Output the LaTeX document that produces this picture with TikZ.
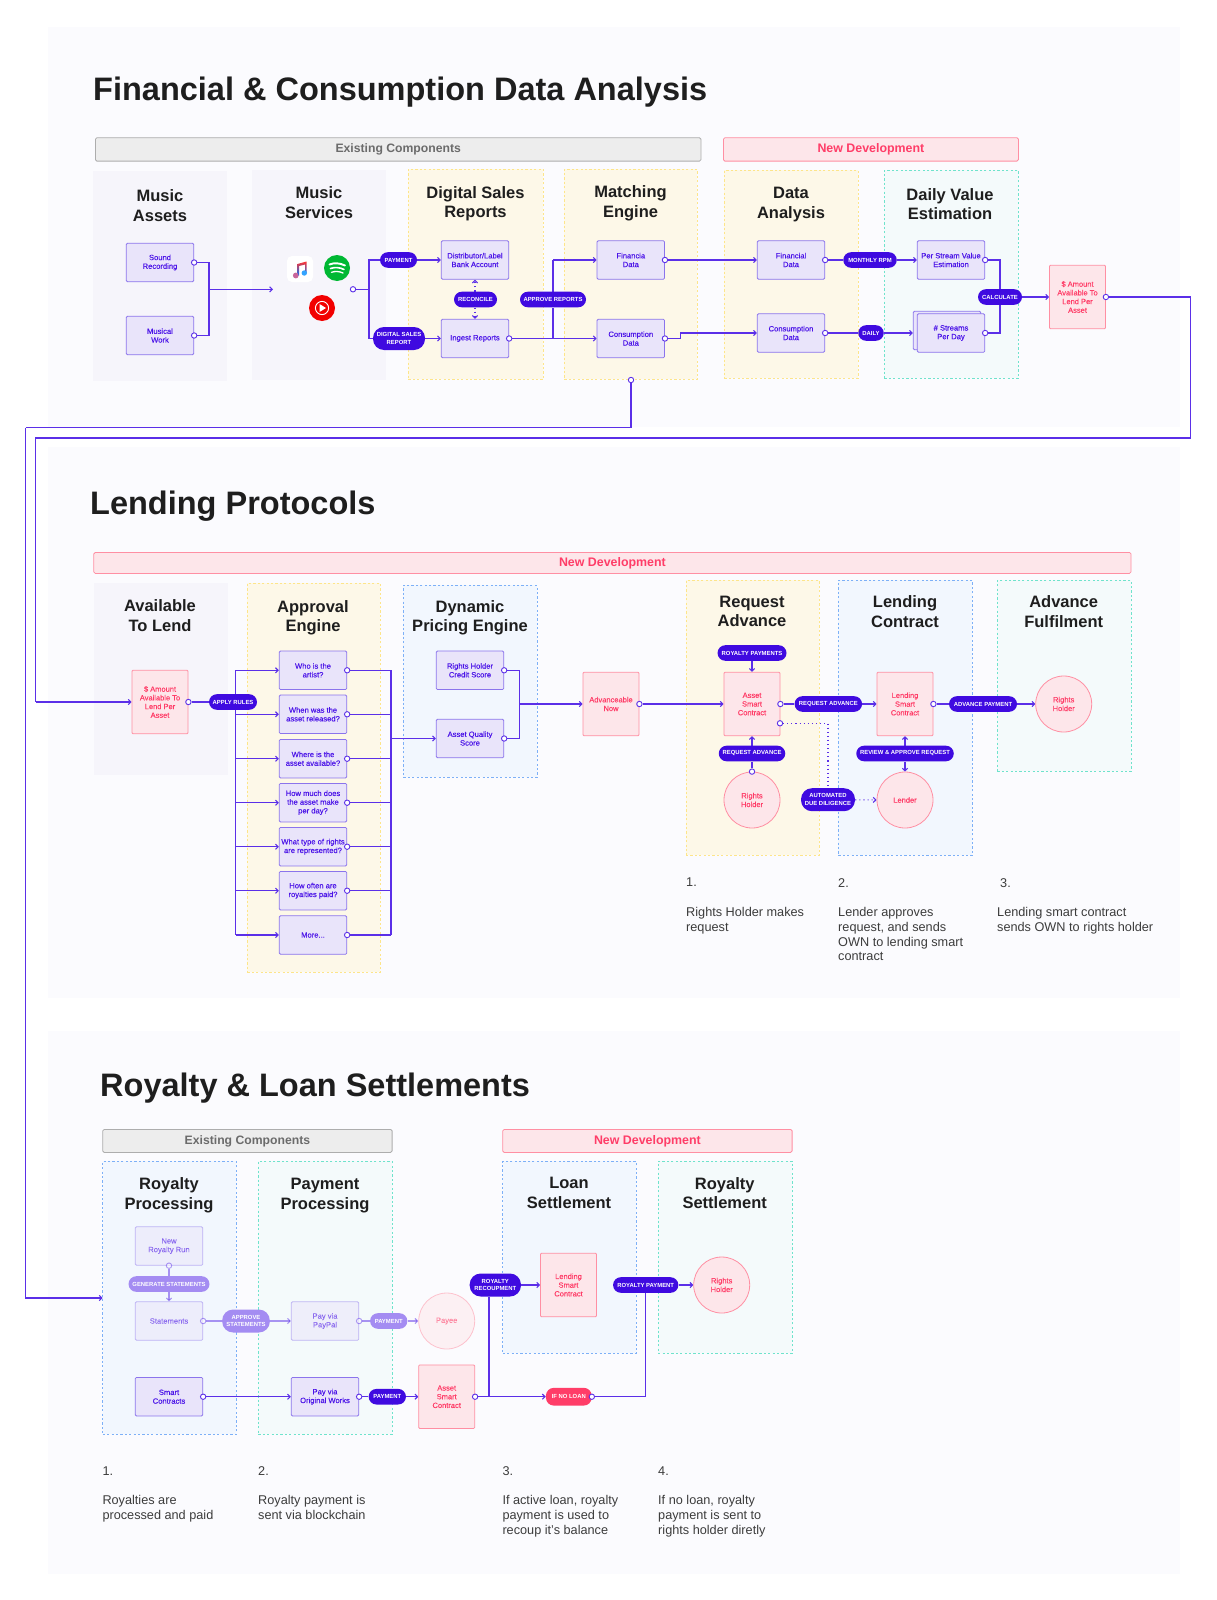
\documentclass[tikz,border=0pt]{standalone}
\usepackage{fontspec}
\setmainfont{Liberation Sans}
\newfontfamily\boxfont[FakeBold=0.25]{Liberation Sans}
\usetikzlibrary{arrows.meta}
\definecolor{sheet}{HTML}{FBFBFE}
\definecolor{linec}{HTML}{5B2FE8}
\definecolor{pillc}{HTML}{3F0AE0}
\definecolor{pilllight}{HTML}{A48CF2}
\definecolor{boxfill}{HTML}{E9E4FA}
\definecolor{boxedge}{HTML}{8B74EC}
\definecolor{boxtext}{HTML}{4B14E8}
\definecolor{pinkfill}{HTML}{FDE6EA}
\definecolor{pinkedge}{HTML}{FF8FA3}
\definecolor{pinktext}{HTML}{FF3D68}
\definecolor{inktext}{HTML}{1E1E1E}
\definecolor{bodytext}{HTML}{3C3C3C}
\definecolor{greyfill}{HTML}{F6F5FB}
\definecolor{yellowfill}{HTML}{FDF8E8}
\definecolor{yellowedge}{HTML}{FDE58A}
\definecolor{bluefill}{HTML}{F2F7FE}
\definecolor{blueedge}{HTML}{7DB0F7}
\definecolor{tealfill}{HTML}{F4FAFB}
\definecolor{tealedge}{HTML}{6FE3CC}
\pgfdeclarelayer{panels}
\pgfdeclarelayer{lines}
\pgfsetlayers{panels,lines,main}
\tikzset{
    wh/.style 2 args={minimum width=#1,minimum height=#2},
    sheetbox/.style={fill=sheet,anchor=north west,inner sep=0},
    panelbase/.style={anchor=north west,inner sep=0},
    greypanel/.style={panelbase,fill=greyfill},
    yellowpanel/.style={panelbase,fill=yellowfill,draw=yellowedge,dash pattern=on 2.2 off 2.2,line width=.9},
    bluepanel/.style={panelbase,fill=bluefill,draw=blueedge,dash pattern=on 2.2 off 2.2,line width=.9},
    tealpanel/.style={panelbase,fill=tealfill,draw=tealedge,dash pattern=on 2.2 off 2.2,line width=.9},
    greybar/.style={panelbase,fill=black!7,draw=black!32,rounded corners=1.5,line width=.8,text=black!58,font=\fontsize{12.2}{13}\selectfont\bfseries},
    pinkbar/.style={panelbase,fill=pinkfill,draw=pinkedge,rounded corners=1.5,line width=.8,text=pinktext,font=\fontsize{12.4}{13}\selectfont\bfseries},
    head/.style={align=center,inner sep=0,text=inktext,font=\fontsize{16.5}{19.5}\selectfont\bfseries},
    bigtitle/.style={anchor=west,inner sep=0,text=inktext,font=\fontsize{32.5}{36}\selectfont\bfseries},
    box/.style={wh={67.5}{38.5},rectangle,rounded corners=1.2,fill=boxfill,draw=boxedge,line width=.8,align=center,inner sep=0,text=boxtext,font=\boxfont\fontsize{7.6}{8.7}\selectfont},
    pinkbox/.style={wh={56}{63.5},rectangle,rounded corners=1,fill=pinkfill,draw=pinkedge,line width=.8,align=center,inner sep=0,text=pinktext,font=\boxfont\fontsize{7.5}{8.7}\selectfont},
    pinkdot/.style={circle,minimum size=56,fill=pinkfill,draw=pinkedge,line width=.8,align=center,inner sep=0,text=pinktext,font=\boxfont\fontsize{7.5}{8.7}\selectfont},
    pill/.style={rectangle,rounded corners=7.8,fill=pillc,text=white,minimum height=15.6,align=center,inner sep=0,font=\fontsize{5.9}{7.5}\selectfont\bfseries},
    pilltwo/.style={pill,minimum height=23,rounded corners=11},
    lightpill/.style={fill=pilllight},
    port/.style={circle,draw=linec,fill=white,line width=.9,minimum size=5.4,inner sep=0},
    link/.style={draw=linec,line width=1.1},
    arrow/.style={link,-{Straight Barb[length=2.6,width=5.2]}},
    dotlink/.style={link,dash pattern=on 1.1 off 3},
    dotarrow/.style={dotlink,-{Straight Barb[length=2.6,width=5.2]}},
    faded/.style={opacity=.5},
    steptext/.style={anchor=north west,align=left,inner sep=0,text=bodytext,font=\fontsize{12.7}{14.8}\selectfont},
}
\begin{document}
\begin{tikzpicture}[x=1pt,y=-1pt]
    \useasboundingbox (0,0) rectangle (1216,1600);
    \begin{pgfonlayer}{panels}
        \node[sheetbox,wh={1132}{400}] (sheetone) at (48,26.5) {};
        \node[sheetbox,wh={1132}{551}] (sheettwo) at (48,447) {};
        \node[sheetbox,wh={1132}{543}] (sheetthree) at (48,1031) {};
        \node[greypanel,wh={134}{210}] (assets) at (93,171) {};
        \node[greypanel,wh={134}{210}] (services) at (252,170) {};
        \node[yellowpanel,wh={135}{210}] (salespanel) at (408,169) {};
        \node[yellowpanel,wh={133}{210}] (matchpanel) at (564,169) {};
        \node[yellowpanel,wh={133.5}{208}] (analysispanel) at (724,170) {};
        \node[tealpanel,wh={134}{208}] (dailypanel) at (884,170) {};
        \node[greypanel,wh={134}{192}] (availpanel) at (93.4,583) {};
        \node[yellowpanel,wh={133}{389}] (approvalpanel) at (247,583) {};
        \node[bluepanel,wh={133.5}{192}] (pricingpanel) at (403,585) {};
        \node[yellowpanel,wh={133}{275}] (requestpanel) at (685.6,580) {};
        \node[bluepanel,wh={134}{275}] (lendingpanel) at (838,580) {};
        \node[tealpanel,wh={133.6}{191}] (fulfilpanel) at (997,580) {};
        \node[bluepanel,wh={133.4}{273}] (royaltypanel) at (102.3,1161) {};
        \node[tealpanel,wh={133.7}{273}] (paymentpanel) at (258,1161) {};
        \node[bluepanel,wh={133.4}{191.7}] (loanpanel) at (502.3,1161) {};
        \node[tealpanel,wh={134}{191.7}] (settlepanel) at (657.7,1161) {};
    \end{pgfonlayer}

    \node[bigtitle] (titleone) at (93,92.5) {Financial \& Consumption Data Analysis};
    \node[bigtitle] (titletwo) at (90,506) {Lending Protocols};
    \node[bigtitle] (titlethree) at (100,1088) {Royalty \& Loan Settlements};

    \node[greybar,wh={605.6}{23.4}] (existone) at (95,137.3) {Existing Components};
    \node[pinkbar,wh={295}{23.4}] (newone) at (723,137.3) {New Development};
    \node[pinkbar,wh={1037.2}{21}] (newtwo) at (93.4,552) {New Development};
    \node[greybar,wh={289.4}{23}] (existthree) at (102.3,1129) {Existing Components};
    \node[pinkbar,wh={289.4}{23}] (newthree) at (502.3,1129) {New Development};

    \node[head] (hassets) at (160,205.5) {Music\\Assets};
    \node[head] (hservices) at (319,202.5) {Music\\Services};
    \node[head] (hsales) at (475.5,203.5) {Digital Sales\\Reports};
    \node[head] (hmatch) at (630.5,203.5) {Matching\\Engine};
    \node[head] (hanalysis) at (791,204.5) {Data\\Analysis};
    \node[head] (hdaily) at (950,204) {Daily Value\\Estimation};
    \node[head] (havail) at (160,615.5) {Available\\To Lend};
    \node[head] (happroval) at (313,618) {Approval\\Engine};
    \node[head] (hpricing) at (470,618) {Dynamic\\Pricing Engine};
    \node[head] (hrequest) at (752,611.5) {Request\\Advance};
    \node[head] (hlending) at (905,611.5) {Lending\\Contract};
    \node[head] (hfulfil) at (1063.7,611.5) {Advance\\Fulfilment};
    \node[head] (hroyalty) at (169,1195.5) {Royalty\\Processing};
    \node[head] (hpayment) at (325,1195.5) {Payment\\Processing};
    \node[head] (hloan) at (569,1193) {Loan\\Settlement};
    \node[head] (hsettle) at (724.7,1193) {Royalty\\Settlement};

    \node[box] (sound) at (160,262.5) {Sound\\Recording};
    \node[box] (musical) at (160,335.5) {Musical\\Work};
    \node[box] (distributor) at (475,260) {Distributor/Label\\Bank Account};
    \node[box] (ingest) at (475,338.5) {Ingest Reports};
    \node[box] (financia) at (630.8,260) {Financia\\Data};
    \node[box] (consumption) at (630.8,338.5) {Consumption\\Data};
    \node[box] (financial) at (791,260) {Financial\\Data};
    \node[box] (consumed) at (791,333) {Consumption\\Data};
    \node[box] (perstream) at (951,260) {Per Stream Value\\Estimation};
    \node[box] (backstreams) at (947,330.5) {};
    \node[box] (streams) at (951,333) {\# Streams\\Per Day};
    \node[pinkbox] (amount) at (1077.5,297) {\$ Amount\\Available To\\Lend Per\\Asset};

    \node[pill,minimum width=37] (payment) at (398.5,260) {PAYMENT};
    \node[pilltwo,minimum width=52] (salesreport) at (399,338.5) {DIGITAL SALES\\REPORT};
    \node[pill,minimum width=43] (reconcile) at (475.5,299.5) {RECONCILE};
    \node[pill,minimum width=66] (approve) at (553,299.5) {APPROVE REPORTS};
    \node[pill,minimum width=53.5] (monthly) at (870,260) {MONTHLY RPM};
    \node[pill,minimum width=25.5] (daily) at (871,333) {DAILY};
    \node[pill,minimum width=44] (calculate) at (1000,297) {CALCULATE};

    \node[port] (soundp) at (sound.east) {};
    \node[port] (musicalp) at (musical.east) {};
    \node[port] (servicesp) at (353,289.3) {};
    \node[port] (ingestp) at (ingest.east) {};
    \node[port] (financiap) at (financia.east) {};
    \node[port] (consumptionp) at (consumption.east) {};
    \node[port] (financialp) at (financial.east) {};
    \node[port] (consumedp) at (consumed.east) {};
    \node[port] (perstreamp) at (perstream.east) {};
    \node[port] (streamsp) at (streams.east) {};
    \node[port] (amountp) at (amount.east) {};
    \node[port] (matchp) at (631,380) {};

    \fill[white,rounded corners=5] (287,256) rectangle (313,282);
    \shade[top color=red!80!white,bottom color=blue!55!cyan] (297.5,264) -- (306.5,261.5) -- (306.5,273) -- (305,273) -- (305,264.5) -- (299,266) -- (299,275.5) -- (297.5,275.5) -- cycle;
    \fill[red!65!blue!60!white] (295.8,275.5) circle (2.9);
    \fill[blue!45!cyan!80!white] (304.3,273) circle (2.7);
    \fill[green!65!black!80!cyan] (337,268) circle (13);
    \draw[white,line width=1.9,line cap=round] (329.5,264.5) .. controls (334,262.5) and (340,263) .. (345,265.5);
    \draw[white,line width=1.6,line cap=round] (330.5,268.5) .. controls (334.5,267) and (340,267.3) .. (344,269.5);
    \draw[white,line width=1.3,line cap=round] (331.5,272.3) .. controls (335,271) and (339.5,271.3) .. (343,273);
    \fill[red!95!black] (322,308) circle (13);
    \draw[white,line width=.9] (322,308) circle (6.6);
    \fill[white] (319.5,304) -- (326,308) -- (319.5,312) -- cycle;

    \coordinate (assetsjoin) at (209,289.3);
    \coordinate (servicesin) at (273,289.3);
    \coordinate (servicesjoin) at (369,289.3);
    \coordinate (approvejoin) at (553,338.5);
    \coordinate (dailyjoin) at (1000,297);

    \begin{pgfonlayer}{lines}
        \draw[link] (soundp) -| (assetsjoin);
        \draw[link] (musicalp) -| (assetsjoin);
        \draw[arrow] (assetsjoin) -- (servicesin);
        \draw[link] (servicesp) -- (servicesjoin);
        \draw[link] (servicesjoin) |- (payment);
        \draw[link] (servicesjoin) |- (salesreport);
        \draw[arrow] (payment) -- (distributor);
        \draw[arrow] (salesreport) -- (ingest);
        \draw[dotarrow] (reconcile.north -| distributor) -- (distributor);
        \draw[dotarrow] (reconcile.south -| ingest) -- (ingest);
        \draw[link] (ingestp) -- (approvejoin);
        \draw[link] (approvejoin) -- (approve);
        \draw[arrow] (approvejoin) -- (consumption);
        \draw[arrow] (approvejoin |- financia) -- (financia);
        \draw[link] (approve) -- (approvejoin |- financia);
        \draw[arrow] (financiap) -- (financial);
        \draw[arrow] (consumptionp) -- ++(15.5,0) |- (consumed);
        \draw[link] (financialp) -- (monthly);
        \draw[arrow] (monthly) -- (perstream);
        \draw[link] (consumedp) -- (daily);
        \draw[arrow] (daily) -- (backstreams.west |- streams);
        \draw[link] (perstreamp) -| (dailyjoin);
        \draw[link] (streamsp) -| (dailyjoin);
        \draw[arrow] (calculate) -- (amount);
    \end{pgfonlayer}

    \node[pinkbox] (amounttwo) at (160,702) {\$ Amount\\Available To\\Lend Per\\Asset};
    \node[pill,minimum width=48] (applyrules) at (233,702) {APPLY RULES};
    \node[box] (artist) at (313,670.3) {Who is the\\artist?};
    \node[box] (released) at (313,714.3) {When was the\\asset released?};
    \node[box] (available) at (313,758.7) {Where is the\\asset available?};
    \node[box] (howmuch) at (313,802.7) {How much does\\the asset make\\per day?};
    \node[box] (rights) at (313,846.7) {What type of rights\\are represented?};
    \node[box] (howoften) at (313,890.7) {How often are\\royalties paid?};
    \node[box] (more) at (313,935) {More...};
    \node[box] (credit) at (470,670.3) {Rights Holder\\Credit Score};
    \node[box] (quality) at (470,738.5) {Asset Quality\\Score};
    \node[pinkbox] (advanceable) at (611,704) {Advanceable\\Now};
    \node[pinkbox] (assetsc) at (752,704) {Asset\\Smart\\Contract};
    \node[pinkbox] (lendingsc) at (905,704) {Lending\\Smart\\Contract};
    \node[pinkdot] (holderone) at (752,800) {Rights\\Holder};
    \node[pinkdot] (lender) at (905,800) {Lender};
    \node[pinkdot] (holdertwo) at (1063.7,704) {Rights\\Holder};

    \node[pill,minimum width=69] (royaltypay) at (752,653) {ROYALTY PAYMENTS};
    \node[pill,minimum width=66.5] (requestlow) at (752,753.5) {REQUEST ADVANCE};
    \node[pill,minimum width=67.5] (requestmid) at (828.3,704) {REQUEST ADVANCE};
    \node[pill,minimum width=68] (advancepay) at (983,704) {ADVANCE PAYMENT};
    \node[pilltwo,minimum width=54] (automated) at (828,799.7) {AUTOMATED\\DUE DILIGENCE};
    \node[pill,minimum width=97.5] (review) at (905,753.5) {REVIEW \& APPROVE REQUEST};

    \node[port] (amounttwop) at (amounttwo.east) {};
    \node[port] (artistp) at (artist.east) {};
    \node[port] (releasedp) at (released.east) {};
    \node[port] (availablep) at (available.east) {};
    \node[port] (howmuchp) at (howmuch.east) {};
    \node[port] (rightsp) at (rights.east) {};
    \node[port] (howoftenp) at (howoften.east) {};
    \node[port] (morep) at (more.east) {};
    \node[port] (creditp) at (credit.east) {};
    \node[port] (qualityp) at (quality.east) {};
    \node[port] (advanceablep) at (advanceable.east) {};
    \node[port] (assetscp) at (assetsc.east) {};
    \node[port] (assetscdue) at (780,723.3) {};
    \node[port] (holderonep) at (holderone.north) {};
    \node[port] (lendingscp) at (lendingsc.east) {};

    \coordinate (busleft) at (235.7,702);
    \coordinate (busright) at (391,738.5);
    \coordinate (pricingjoin) at (519.3,704);
    \coordinate (dueturn) at (828,723.3);
    \coordinate (amountturnr) at (1190.5,297);
    \coordinate (amountturnl) at (35.5,438);
    \coordinate (matchturn) at (25.5,427.7);
    \coordinate (royaltyin) at (102.7,1298);

    \begin{pgfonlayer}{lines}
        \draw[link] (amountp) -- (amountturnr) |- (amountturnl) -- (amountturnl |- amounttwo);
        \draw[arrow] (amountturnl |- amounttwo) -- (amounttwo);
        \draw[link] (matchp) |- (matchturn);
        \draw[arrow] (matchturn) |- (royaltyin);
        \draw[link] (amounttwop) -- (applyrules);
        \draw[link] (busleft |- artist) -- (busleft |- more);
        \draw[arrow] (busleft |- artist) -- (artist);
        \draw[arrow] (busleft |- released) -- (released);
        \draw[arrow] (busleft |- available) -- (available);
        \draw[arrow] (busleft |- howmuch) -- (howmuch);
        \draw[arrow] (busleft |- rights) -- (rights);
        \draw[arrow] (busleft |- howoften) -- (howoften);
        \draw[arrow] (busleft |- more) -- (more);
        \draw[link] (artistp) -- (busright |- artist);
        \draw[link] (releasedp) -- (busright |- released);
        \draw[link] (availablep) -- (busright |- available);
        \draw[link] (howmuchp) -- (busright |- howmuch);
        \draw[link] (rightsp) -- (busright |- rights);
        \draw[link] (howoftenp) -- (busright |- howoften);
        \draw[link] (morep) -- (busright |- more);
        \draw[link] (busright |- artist) -- (busright |- more);
        \draw[arrow] (busright) -- (quality);
        \draw[link] (creditp) -| (pricingjoin);
        \draw[link] (qualityp) -| (pricingjoin);
        \draw[arrow] (pricingjoin) -- (advanceable);
        \draw[arrow] (advanceablep) -- (assetsc);
        \draw[arrow] (royaltypay) -- (assetsc);
        \draw[link] (holderonep) -- (requestlow);
        \draw[arrow] (requestlow) -- (assetsc);
        \draw[link] (assetscp) -- (requestmid);
        \draw[arrow] (requestmid) -- (lendingsc);
        \draw[link] (lendingscp) -- (advancepay);
        \draw[arrow] (advancepay) -- (holdertwo);
        \draw[arrow] (review) -- (lendingsc);
        \draw[arrow] (review) -- (lender);
        \draw[dotlink] (assetscdue) -- (dueturn) -- (automated);
        \draw[dotarrow] (automated) -- (lender);
    \end{pgfonlayer}

    \node[box,faded] (newrun) at (169,1246) {New\\Royalty Run};
    \node[box,faded] (statements) at (169,1321) {Statements};
    \node[box] (smart) at (169,1396.7) {Smart\\Contracts};
    \node[box,faded] (paypal) at (325,1321) {Pay via\\PayPal};
    \node[box] (original) at (325,1396.7) {Pay via\\Original Works};
    \node[pinkdot,faded] (payee) at (446.7,1321) {Payee};
    \node[pinkbox] (assetscb) at (446.7,1396.7) {Asset\\Smart\\Contract};
    \node[pinkbox] (lendingscb) at (568.5,1285) {Lending\\Smart\\Contract};
    \node[pinkdot] (holderthree) at (721.7,1285) {Rights\\Holder};

    \node[pill,minimum width=81,lightpill] (generate) at (169,1284) {GENERATE STATEMENTS};
    \node[pilltwo,minimum width=47.7,lightpill] (approvest) at (246,1321) {APPROVE\\STATEMENTS};
    \node[pill,minimum width=37.3,lightpill] (paymentlight) at (388.7,1321) {PAYMENT};
    \node[pill,minimum width=37.3] (paymentdark) at (387.3,1396.7) {PAYMENT};
    \node[pilltwo,minimum width=51.3] (recoup) at (495.3,1285) {ROYALTY\\RECOUPMENT};
    \node[pill,minimum width=65.3] (royaltypayment) at (645.7,1285) {ROYALTY PAYMENT};
    \node[pill,minimum width=45.7,minimum height=17.7,fill=pinktext] (noloan) at (568.8,1396.7) {IF NO LOAN};

    \node[port,faded] (newrunp) at (newrun.south) {};
    \node[port,faded] (statementsp) at (statements.east) {};
    \node[port] (smartp) at (smart.east) {};
    \node[port,faded] (paypalp) at (paypal.east) {};
    \node[port] (originalp) at (original.east) {};
    \node[port] (assetscbp) at (assetscb.east) {};
    \node[port] (noloanp) at (noloan.east) {};

    \coordinate (recoupturn) at (489,1396.7);
    \coordinate (noloanturn) at (645.7,1396.7);

    \begin{pgfonlayer}{lines}
        \draw[link,faded] (newrunp) -- (generate);
        \draw[arrow,faded] (generate) -- (statements);
        \draw[link,faded] (statementsp) -- (approvest);
        \draw[arrow,faded] (approvest) -- (paypal);
        \draw[link,faded] (paypalp) -- (paymentlight);
        \draw[arrow,faded] (paymentlight) -- (payee);
        \draw[arrow] (smartp) -- (original);
        \draw[link] (originalp) -- (paymentdark);
        \draw[arrow] (paymentdark) -- (assetscb);
        \draw[arrow] (assetscbp) -- (noloan);
        \draw[link] (recoupturn) -- (recoupturn |- recoup.south);
        \draw[arrow] (recoup) -- (lendingscb);
        \draw[link] (noloanp) -- (noloanturn) -- (royaltypayment);
        \draw[arrow] (royaltypayment) -- (holderthree);
    \end{pgfonlayer}

    \node[steptext] (stepa) at (686,878) {1.};
    \node[steptext] (stepatext) at (686,907) {Rights Holder makes\\request};
    \node[steptext] (stepb) at (838,878) {2.};
    \node[steptext] (stepbtext) at (838,907) {Lender approves\\request, and sends\\OWN to lending smart\\contract};
    \node[steptext] (stepc) at (1000,878) {3.};
    \node[steptext] (stepctext) at (997,907) {Lending smart contract\\sends OWN to rights holder};
    \node[steptext] (stepd) at (102.3,1466.5) {1.};
    \node[steptext] (stepdtext) at (102.3,1495.5) {Royalties are\\processed and paid};
    \node[steptext] (stepe) at (258,1466.5) {2.};
    \node[steptext] (stepetext) at (258,1495.5) {Royalty payment is\\sent via blockchain};
    \node[steptext] (stepf) at (502.3,1466.5) {3.};
    \node[steptext] (stepftext) at (502.3,1495.5) {If active loan, royalty\\payment is used to\\recoup it's balance};
    \node[steptext] (stepg) at (658,1466.5) {4.};
    \node[steptext] (stepgtext) at (658,1495.5) {If no loan, royalty\\payment is sent to\\rights holder diretly};
\end{tikzpicture}
\end{document}
